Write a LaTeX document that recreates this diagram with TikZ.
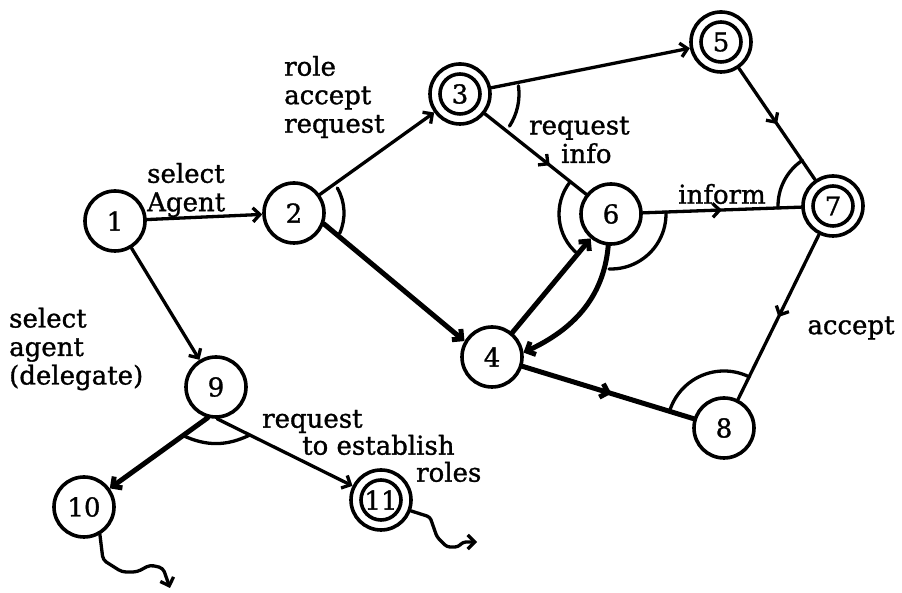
\documentclass[tikz,border=0pt]{standalone}
\usepackage{fontspec}
\setmainfont{DejaVu Serif}[FakeBold=1.2]
\usetikzlibrary{arrows.meta,calc,decorations.markings}

\begin{document}
\begin{tikzpicture}[x=1pt,y=1pt,
  line cap=round, line join=round,
  state/.style={circle, draw, line width=3.6pt, minimum size=60pt, inner sep=0pt,
    font=\fontsize{26}{28}\selectfont},
  final/.style={state, path picture={\draw[line width=3.6pt]
    (path picture bounding box.center) circle[radius=20pt];}},
  barb/.tip={Straight Barb[length=7pt,width=14pt]},
  edge/.style={line width=3.3pt, -barb},
  heavy/.style={edge, line width=5pt},
  midarrow/.style={line width=3.3pt, postaction={decorate},
    decoration={markings, mark=at position #1 with {\arrow{barb}}}},
  midarrow/.default=0.5,
  andarc/.style={line width=3.3pt},
  lbl/.style={align=left, inner sep=0pt, font=\fontsize{26}{28.5}\selectfont},
]
\useasboundingbox (0,0) rectangle (902,593);

% states
\node[state] (n1)  at (115,372) {1};
\node[state] (n2)  at (294,380) {2};
\node[final] (n3)  at (460,499) {3};
\node[state] (n4)  at (492,236) {4};
\node[final] (n5)  at (721,551) {5};
\node[state] (n6)  at (611,379) {6};
\node[final] (n7)  at (833,387) {7};
\node[state] (n8)  at (724,165) {8};
\node[state] (n9)  at (216,206) {9};
\node[state] (n10) at (84,86)   {10};
\node[final] (n11) at (381,93)  {11};

% transitions
\draw[edge] (n1) -- (n2);
\draw[edge] (n2) -- (n3);
\draw[heavy] (n2.-20) -- (n4.150);
\draw[edge] (n1) -- (n9);
\draw[edge] (n3) -- (n5);
\draw[midarrow=0.64] (n3) -- (n6);
\draw[midarrow] (n5) -- (n7);
\draw[midarrow] (n6) -- (n7);
\draw[heavy] (n4) -- (n6);
\draw[heavy] (n6.-95) to[out=-95,in=25] (n4.8);
\draw[midarrow=0.52, line width=5pt] (n4) -- (n8);
\draw[midarrow] (n7) -- (n8);
\draw[heavy] (n9.-105) -- (n10);
\draw[edge] (n9.-88) -- (n11);

% exits
\coordinate (e10) at (170,5);
\coordinate (e11) at (477,51);
\draw[edge, rounded corners=4pt] (n10.-60) -- (103,33) -- (122,21) -- (137,21)
  -- (150,28) -- (163,25) -- (e10);
\draw[edge, rounded corners=3pt] (n11.-20) -- (430,76) -- (437,56) -- (447,46)
  -- (458,46) -- (463,51) -- (e11);

% arcs joining transitions
\draw[andarc] ([shift={(30:50pt)}]n2.center) arc[start angle=30,end angle=-24,radius=50pt];
\draw[andarc] ([shift={(8:59pt)}]n3.center) arc[start angle=8,end angle=-33,radius=59pt];
\draw[andarc] ([shift={(124:55pt)}]n7.center) arc[start angle=124,end angle=182,radius=55pt];
\draw[andarc] ([shift={(142:52pt)}]n6.center) arc[start angle=142,end angle=230,radius=52pt];
\draw[andarc] ([shift={(2:55pt)}]n6.center) arc[start angle=2,end angle=-92,radius=55pt];
\draw[andarc] ([shift={(64:57pt)}]n8.center) arc[start angle=64,end angle=163,radius=57pt];
\draw[andarc] ($(n9.-105)!0.2!(n10)$) to[bend right=25] ($(n9.-88)!0.2!(n11)$);

% labels
\node[lbl, anchor=west] (lselA) at (147,403) {select\\Agent};
\node[lbl, anchor=west] (lrole) at (284,496) {role\\accept\\request};
\node[lbl, anchor=west] (lreq)  at (529,453) {request\\\hspace*{32pt}info};
\node[lbl] (linf) at (722,399) {inform};
\node[lbl] (lacc) at (851,265) {accept};
\node[lbl, anchor=west] (lsel) at (9,244) {select\\agent\\(delegate)};
\node[lbl, anchor=west, font=\fontsize{26}{27}\selectfont] (lest) at (262,147)
  {request\\\hspace*{40pt}to establish\\\hspace*{154pt}roles};
\end{tikzpicture}
\end{document}
